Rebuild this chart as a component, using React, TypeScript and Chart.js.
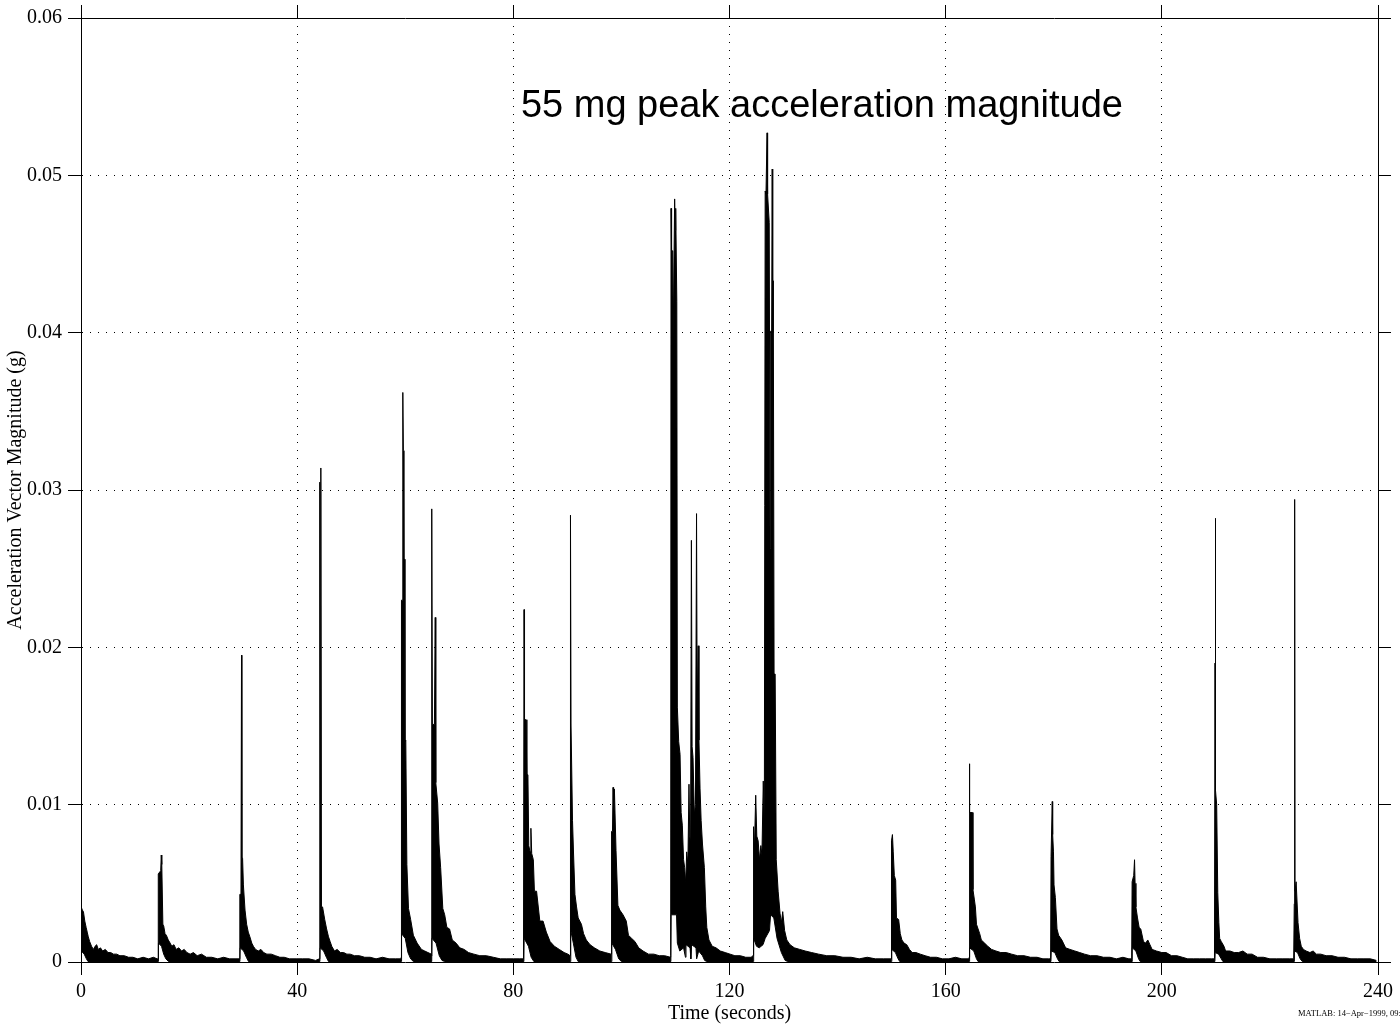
import { useEffect, useRef } from 'react';
import { Chart, registerables } from 'chart.js';

Chart.register(...registerables);

type P = [number, number];

// ---- Axis ticks ----
const xTickValues = [0, 40, 80, 120, 160, 200, 240];
const yTickValues = [0, 0.01, 0.02, 0.03, 0.04, 0.05, 0.06];

// ---- Texts ----
const xTitle = 'Time (seconds)';
const yTitle = 'Acceleration Vector Magnitude (g)';
const noteText = '55 mg peak acceleration magnitude';
const noteAt: P = [81.4, 0.0537];
const footerText = 'MATLAB: 14\u2212Apr\u22121999, 09:16';

// ---- Upper envelope of |a| (g), per event: [time s, value g] ----
const up000: P[] = [
  [0, 0.0001], [0.03, 0.0035], [0.25, 0.0033], [0.45, 0.0032], [0.7, 0.0026], [0.95, 0.0022],
  [1.15, 0.0019], [1.35, 0.0016], [1.6, 0.0013], [1.95, 0.001], [2.3, 0.0008], [2.6, 0.001],
  [2.9, 0.0011], [3.2, 0.0008], [3.6, 0.0009], [4.0, 0.0007], [4.5, 0.0008], [5.0, 0.0006],
  [5.5, 0.0006], [6.0, 0.0005], [6.6, 0.0005], [7.2, 0.0004], [8.0, 0.0004], [8.8, 0.0003],
  [9.6, 0.0003], [10.5, 0.0002], [11.5, 0.0003], [12.5, 0.0002], [13.4, 0.0003], [14.1, 0.0002],
];
const up015: P[] = [
  [14.25, 0.0002], [14.3, 0.0056], [14.75, 0.0058], [14.85, 0.0068], [14.95, 0.0062], [15.15, 0.0024],
  [15.3, 0.0023], [15.55, 0.0018], [15.8, 0.0017], [16.15, 0.0014], [16.5, 0.0012], [16.8, 0.001],
  [17.2, 0.0011], [17.6, 0.0008], [18.1, 0.0009], [18.6, 0.0007], [19.1, 0.0008], [19.6, 0.0006],
  [20.2, 0.0005], [20.8, 0.0006], [21.5, 0.0004], [22.3, 0.0005], [23.2, 0.0003], [24.2, 0.0003],
  [25.3, 0.0002], [26.4, 0.0003], [27.5, 0.0002], [28.5, 0.0002], [29.3, 0.0002],
];
const up030: P[] = [
  [29.36, 0.0002], [29.42, 0.0043], [29.6, 0.0043], [29.7, 0.0195], [29.77, 0.0066], [29.9, 0.0066],
  [30.05, 0.0049], [30.35, 0.0033], [30.65, 0.0024], [30.95, 0.0019], [31.25, 0.0016], [31.6, 0.0012],
  [31.9, 0.001], [32.3, 0.0008], [32.8, 0.0007], [33.3, 0.0008], [33.8, 0.0006], [34.4, 0.0005],
  [35.2, 0.0005], [36.0, 0.0004], [36.8, 0.0003], [37.6, 0.0003], [38.6, 0.0002], [39.8, 0.0002],
  [41.0, 0.0002], [42.2, 0.0002], [43.4, 0.0001], [44.1, 0.0002],
];
const up045: P[] = [
  [44.16, 0.0002], [44.22, 0.0305], [44.3, 0.01], [44.38, 0.0314], [44.5, 0.0035], [44.7, 0.0035],
  [45.1, 0.0027], [45.45, 0.0021], [45.8, 0.0016], [46.1, 0.0013], [46.4, 0.001], [46.9, 0.0007],
  [47.4, 0.0008], [48.0, 0.0006], [48.6, 0.0006], [49.2, 0.0005], [49.8, 0.0005], [50.6, 0.0004],
  [51.5, 0.0004], [52.5, 0.0003], [53.5, 0.0003], [54.6, 0.0002], [55.8, 0.0003], [57.0, 0.0002],
  [58.2, 0.0002], [59.2, 0.0002],
];
const up060: P[] = [
  [59.25, 0.0003], [59.3, 0.023], [59.45, 0.023], [59.55, 0.0362], [59.65, 0.0325], [59.75, 0.0256],
  [59.85, 0.0256], [59.95, 0.014], [60.1, 0.0141], [60.3, 0.0062], [60.6, 0.0034], [61.0, 0.0027],
  [61.5, 0.0017], [62.2, 0.0012], [63.0, 0.0008], [63.6, 0.0007], [64.2, 0.0006], [64.83, 0.0005],
];
const up065: P[] = [
  [64.88, 0.0004], [64.93, 0.0288], [65.02, 0.0151], [65.4, 0.0151], [65.55, 0.0219], [65.65, 0.0114],
  [66.0, 0.0101], [66.25, 0.0075], [66.55, 0.006], [66.95, 0.0034], [67.3, 0.003], [67.7, 0.0022],
  [68.2, 0.0021], [68.7, 0.0014], [69.4, 0.0012], [70.1, 0.0009], [70.9, 0.0008], [71.7, 0.0006],
  [72.7, 0.0005], [73.8, 0.0004], [75.0, 0.0004], [76.3, 0.0003], [77.6, 0.0002], [78.8, 0.0002],
  [80.0, 0.0002], [81.2, 0.0002], [81.88, 0.0002],
];
const up082: P[] = [
  [81.93, 0.0002], [81.98, 0.0224], [82.07, 0.0154], [82.35, 0.0154], [82.5, 0.0119], [82.7, 0.0119],
  [82.85, 0.0074], [83.1, 0.007], [83.25, 0.0085], [83.4, 0.0069], [83.7, 0.0065], [83.9, 0.0045],
  [84.3, 0.0045], [84.9, 0.0026], [85.5, 0.0026], [86.1, 0.0019], [86.8, 0.0013], [87.6, 0.001],
  [88.5, 0.0008], [89.4, 0.0006], [90.1, 0.0005], [90.5, 0.0004],
];
const up091: P[] = [
  [90.55, 0.0004], [90.6, 0.0284], [90.68, 0.015], [90.85, 0.015], [90.95, 0.009], [91.15, 0.0068],
  [91.4, 0.0043], [91.7, 0.0035], [92.0, 0.0028], [92.6, 0.0024], [93.0, 0.0018], [93.5, 0.0014],
  [94.2, 0.0011], [95.0, 0.0009], [96.0, 0.0007], [97.0, 0.0006], [98.1, 0.0005],
];
const up098: P[] = [
  [98.15, 0.0005], [98.2, 0.0083], [98.35, 0.0083], [98.45, 0.0111], [98.55, 0.0098], [98.7, 0.011],
  [99.0, 0.0071], [99.35, 0.0036], [99.7, 0.0033], [100.3, 0.003], [100.9, 0.0026], [101.3, 0.0017],
  [101.9, 0.0015], [102.5, 0.0013], [103.2, 0.0009], [104.0, 0.0007], [105.0, 0.0005], [106.0, 0.0005],
  [107.0, 0.0004], [108.0, 0.0004], [109.08, 0.0003],
];
const up110: P[] = [
  [109.12, 0.0004], [109.18, 0.0479], [109.28, 0.0452], [109.5, 0.0452], [109.58, 0.0397], [109.7, 0.0397],
  [109.85, 0.0485], [109.95, 0.0465], [110.05, 0.0479], [110.25, 0.042], [110.35, 0.0162], [110.6, 0.014],
  [110.85, 0.0132], [111.05, 0.0095], [111.27, 0.0087], [111.5, 0.0065], [111.7, 0.006], [111.9, 0.005],
  [112.08, 0.007], [112.3, 0.0062], [112.5, 0.0113], [112.65, 0.008], [112.8, 0.0076], [112.95, 0.0268],
  [113.08, 0.0137], [113.25, 0.013], [113.5, 0.0094], [113.7, 0.01], [113.9, 0.0285], [114.02, 0.016],
  [114.2, 0.0201], [114.35, 0.0141], [114.55, 0.011], [114.75, 0.009], [115.0, 0.0075], [115.35, 0.006],
  [115.6, 0.0035], [115.8, 0.0022], [116.2, 0.0014], [116.8, 0.001], [117.5, 0.0009], [118.3, 0.0007],
  [119.2, 0.0006], [120.1, 0.0005], [121.0, 0.0004], [122.0, 0.0004], [123.0, 0.0003], [124.0, 0.0003],
  [124.33, 0.0004],
];
const up127: P[] = [
  [124.38, 0.0004], [124.45, 0.0086], [124.6, 0.007], [124.85, 0.0106], [125.05, 0.008], [125.3, 0.0077],
  [125.55, 0.0065], [125.8, 0.0074], [126.0, 0.0068], [126.25, 0.0115], [126.45, 0.009], [126.6, 0.049],
  [126.75, 0.0488], [126.95, 0.0527], [127.05, 0.0488], [127.35, 0.047], [127.5, 0.0263], [127.62, 0.0401],
  [127.8, 0.0401], [127.9, 0.0504], [128.0, 0.04], [128.1, 0.0433], [128.25, 0.0183], [128.45, 0.0183],
  [128.65, 0.0065], [129.0, 0.0045], [129.35, 0.0031], [129.6, 0.0025], [129.85, 0.0032], [130.2, 0.002],
  [130.6, 0.0014], [131.2, 0.0011], [132.0, 0.0009], [133.0, 0.0008], [134.0, 0.0007], [135.2, 0.0006],
  [136.5, 0.0005], [138.0, 0.0004], [139.5, 0.0004], [141.0, 0.0003], [142.5, 0.0003], [144.0, 0.0002],
  [145.5, 0.0003], [147.0, 0.0002], [148.5, 0.0002], [149.9, 0.0002],
];
const up150: P[] = [
  [149.95, 0.0002], [150.0, 0.0077], [150.15, 0.0081], [150.3, 0.007], [150.5, 0.0055], [150.75, 0.0052],
  [150.9, 0.0028], [151.3, 0.0027], [151.6, 0.0018], [151.9, 0.0014], [152.3, 0.0012], [152.8, 0.0011],
  [153.3, 0.0008], [153.8, 0.0006], [154.5, 0.0006], [155.3, 0.0005], [156.2, 0.0004], [157.2, 0.0003],
  [158.3, 0.0003], [159.4, 0.0002], [160.6, 0.0002], [161.8, 0.0003], [163.0, 0.0002], [164.3, 0.0002],
];
const up165: P[] = [
  [164.35, 0.0003], [164.4, 0.0126], [164.45, 0.0095], [164.95, 0.0095], [165.05, 0.0046], [165.3, 0.004],
  [165.5, 0.0035], [165.7, 0.0024], [166.0, 0.0021], [166.3, 0.0018], [166.6, 0.0014], [167.2, 0.0012],
  [167.8, 0.001], [168.5, 0.0008], [169.3, 0.0007], [170.2, 0.0006], [171.2, 0.0006], [172.2, 0.0005],
  [173.3, 0.0004], [174.5, 0.0004], [175.7, 0.0003], [176.9, 0.0003], [178.0, 0.0002], [179.0, 0.0002],
  [179.42, 0.0002],
];
const up180: P[] = [
  [179.46, 0.0002], [179.5, 0.0067], [179.65, 0.0067], [179.72, 0.0102], [179.8, 0.0081], [179.95, 0.007],
  [180.05, 0.0049], [180.3, 0.0041], [180.6, 0.0021], [180.9, 0.0017], [181.5, 0.0014], [182.2, 0.0009],
  [183.0, 0.0008], [183.9, 0.0007], [184.8, 0.0006], [185.7, 0.0005], [186.8, 0.0004], [188.0, 0.0004],
  [189.2, 0.0003], [190.4, 0.0003], [191.6, 0.0002], [192.8, 0.0003], [193.9, 0.0002], [194.42, 0.0002],
];
const up195: P[] = [
  [194.46, 0.0002], [194.5, 0.0051], [194.8, 0.0055], [194.95, 0.0065], [195.05, 0.005], [195.2, 0.0035],
  [195.5, 0.0028], [195.8, 0.0022], [196.1, 0.0021], [196.6, 0.0013], [197.0, 0.0012], [197.4, 0.0014],
  [197.8, 0.0011], [198.2, 0.0008], [199.0, 0.0007], [200.0, 0.0006], [200.8, 0.0006], [201.8, 0.0004],
  [202.8, 0.0004], [203.8, 0.0003], [204.8, 0.0002], [205.9, 0.0002], [207.0, 0.0002], [208.1, 0.0002],
  [209.2, 0.0002], [209.74, 0.0002],
];
const up210: P[] = [
  [209.78, 0.0002], [209.84, 0.019], [209.88, 0.012], [209.92, 0.0282], [210.0, 0.0109], [210.15, 0.01],
  [210.35, 0.0044], [210.55, 0.0025], [210.7, 0.0015], [211.0, 0.0013], [211.5, 0.001], [211.8, 0.0007],
  [212.6, 0.0007], [213.4, 0.0006], [214.2, 0.0006], [215.0, 0.0007], [215.8, 0.0005], [216.7, 0.0005],
  [217.7, 0.0003], [218.8, 0.0003], [220.0, 0.0002], [221.2, 0.0002], [222.4, 0.0002], [223.6, 0.0002],
  [224.4, 0.0002],
];
const up225: P[] = [
  [224.45, 0.0002], [224.5, 0.0037], [224.58, 0.0294], [224.65, 0.0045], [224.85, 0.0051], [225.2, 0.0025],
  [225.5, 0.0015], [225.8, 0.001], [226.2, 0.0008], [226.7, 0.0007], [227.4, 0.0006], [228.0, 0.0007],
  [228.6, 0.0005], [229.4, 0.0005], [230.4, 0.0004], [231.5, 0.0004], [232.6, 0.0003], [233.8, 0.0003],
  [235.0, 0.0002], [236.2, 0.0002], [237.4, 0.0002], [238.6, 0.0002], [239.7, 0.0001],
];

// ---- Lower envelope of |a| (g), per event ----
const lo000: P[] = [[0, 0.00003], [0.06, 0.0007], [0.6, 0.0005], [1.0, 0.0002], [1.3, 0.00003]];
const lo015: P[] = [[14.28, 0.00003], [14.33, 0.0012], [14.9, 0.001], [15.3, 0.0005], [15.7, 0.0002], [16.2, 0.00003]];
const lo030: P[] = [[29.4, 0.00003], [29.45, 0.0009], [30.1, 0.0007], [30.6, 0.0003], [31.0, 0.00003]];
const lo045: P[] = [[44.2, 0.00003], [44.25, 0.0009], [44.9, 0.0007], [45.4, 0.0003], [45.8, 0.00003]];
const lo060: P[] = [[59.27, 0.00003], [59.32, 0.0018], [60.0, 0.0015], [60.5, 0.0006], [61.0, 0.0002], [61.5, 0.00003]];
const lo065: P[] = [[64.9, 0.00003], [64.95, 0.0015], [65.7, 0.0012], [66.3, 0.0004], [66.8, 0.0001], [67.3, 0.00003]];
const lo082: P[] = [[81.95, 0.00003], [82.0, 0.0015], [82.8, 0.001], [83.3, 0.0003], [83.8, 0.00003]];
const lo091: P[] = [[90.58, 0.00003], [90.63, 0.002], [91.1, 0.0012], [91.6, 0.0003], [92.0, 0.00003]];
const lo098: P[] = [[98.18, 0.00003], [98.23, 0.0012], [98.9, 0.0008], [99.5, 0.0002], [100.0, 0.00003]];
const lo110: P[] = [
  [109.15, 0.00003], [109.2, 0.003], [110.2, 0.003], [110.35, 0.0012], [110.8, 0.0007], [111.5, 0.0009],
  [111.85, 0.0003], [111.95, 0.0011], [112.7, 0.0009], [112.85, 0.0002], [112.98, 0.0011], [113.8, 0.0009],
  [113.92, 0.0002], [114.3, 0.0007], [115.0, 0.0004], [115.4, 0.0001], [115.8, 0.00003],
];
const lo127: P[] = [
  [124.4, 0.00003], [124.47, 0.0015], [125.0, 0.001], [125.5, 0.0009], [126.2, 0.0011], [126.6, 0.0015],
  [127.4, 0.002], [127.6, 0.003], [128.2, 0.0028], [128.8, 0.0015], [129.6, 0.0006], [130.3, 0.0001],
  [130.8, 0.00003],
];
const lo150: P[] = [[149.98, 0.00003], [150.03, 0.0008], [150.7, 0.0006], [151.2, 0.0002], [151.5, 0.00003]];
const lo165: P[] = [[164.38, 0.00003], [164.43, 0.0009], [165.2, 0.0007], [165.7, 0.0002], [166.0, 0.00003]];
const lo180: P[] = [[179.48, 0.00003], [179.53, 0.0007], [180.2, 0.0006], [180.7, 0.0002], [181.0, 0.00003]];
const lo195: P[] = [[194.48, 0.00003], [194.53, 0.0009], [195.2, 0.0007], [195.7, 0.0002], [196.0, 0.00003]];
const lo210: P[] = [[209.82, 0.00003], [209.87, 0.0006], [210.5, 0.0005], [211.0, 0.0002], [211.3, 0.00003]];
const lo225: P[] = [[224.48, 0.00003], [224.53, 0.0007], [225.1, 0.0006], [225.6, 0.0002], [226.0, 0.00003], [239.7, 0.00003]];

const upperEnvelope: P[] = [
  ...up000, ...up015, ...up030, ...up045, ...up060, ...up065, ...up082, ...up091, ...up098,
  ...up110, ...up127, ...up150, ...up165, ...up180, ...up195, ...up210, ...up225,
];
const lowerEnvelope: P[] = [
  ...lo000, ...lo015, ...lo030, ...lo045, ...lo060, ...lo065, ...lo082, ...lo091, ...lo098,
  ...lo110, ...lo127, ...lo150, ...lo165, ...lo180, ...lo195, ...lo210, ...lo225,
];

const SERIF = '"Liberation Serif", "Times New Roman", Times, serif';
const SANS = '"Liberation Sans", Arial, Helvetica, sans-serif';

const textPlugin = {
  id: 'matlabTexts',
  afterDraw(chart: any) {
    const { ctx } = chart;
    const xs = chart.scales.x;
    const ys = chart.scales.y;
    ctx.save();
    ctx.fillStyle = '#000';
    ctx.font = `38px ${SANS}`;
    ctx.textAlign = 'left';
    ctx.textBaseline = 'alphabetic';
    ctx.fillText(noteText, xs.getPixelForValue(noteAt[0]), ys.getPixelForValue(noteAt[1]));
    ctx.font = `8.5px ${SERIF}`;
    ctx.fillText(footerText, 1298, 1016);
    ctx.restore();
  },
};

export default function App() {
  const ref = useRef<HTMLCanvasElement | null>(null);

  useEffect(() => {
    if (!ref.current) return;
    const tickFont = { family: SERIF, size: 20 };
    const chart = new Chart(ref.current, {
      type: 'line',
      data: {
        datasets: [
          {
            label: 'lower',
            data: lowerEnvelope.map(([x, y]) => ({ x, y })),
            borderColor: '#000',
            borderWidth: 1,
            pointRadius: 0,
            fill: false,
          },
          {
            label: 'upper',
            data: upperEnvelope.map(([x, y]) => ({ x, y })),
            borderColor: '#000',
            backgroundColor: '#000',
            borderWidth: 1,
            pointRadius: 0,
            fill: 0,
          },
        ],
      },
      plugins: [textPlugin],
      options: {
        animation: false,
        responsive: false,
        devicePixelRatio: 1,
        layout: { padding: 0 },
        elements: { line: { tension: 0 }, point: { radius: 0 } },
        plugins: {
          legend: { display: false },
          tooltip: { enabled: false },
          title: { display: false },
        },
        scales: {
          x: {
            type: 'linear',
            position: 'bottom',
            min: 0,
            max: 240,
            afterBuildTicks: (s: any) => { s.ticks = xTickValues.map((value) => ({ value })); },
            afterFit: (s: any) => { s.height = 62; },
            ticks: { font: tickFont, color: '#000', padding: 5, maxRotation: 0, autoSkip: false, callback: (v: any) => String(v) },
            grid: { color: '#000', lineWidth: 1, drawTicks: true, tickLength: 13, tickColor: '#000', tickWidth: 1 },
            border: { display: true, color: '#000', width: 1, dash: [1, 7] },
            title: { display: true, text: xTitle, font: tickFont, color: '#000', padding: { top: 0, bottom: -2 } },
          },
          y: {
            type: 'linear',
            position: 'left',
            min: 0,
            max: 0.06,
            afterBuildTicks: (s: any) => { s.ticks = yTickValues.map((value) => ({ value })); },
            afterFit: (s: any) => { s.width = 81; },
            ticks: { font: tickFont, color: '#000', padding: 6, autoSkip: false, callback: (v: any) => (Number(v) === 0 ? '0' : Number(v).toFixed(2)) },
            grid: { color: '#000', lineWidth: 1, drawTicks: true, tickLength: 13, tickColor: '#000', tickWidth: 1 },
            border: { display: true, color: '#000', width: 1, dash: [1, 7] },
            title: { display: true, text: yTitle, font: tickFont, color: '#000', padding: { top: 4, bottom: 0 } },
          },
          x2: {
            type: 'linear',
            position: 'top',
            display: true,
            min: 0,
            max: 240,
            afterBuildTicks: (s: any) => { s.ticks = xTickValues.map((value) => ({ value })); },
            afterFit: (s: any) => { s.height = 17; },
            ticks: { display: false },
            grid: { drawOnChartArea: false, drawTicks: true, tickLength: 13, tickColor: '#000', tickWidth: 1, color: '#000' },
            border: { display: true, color: '#000', width: 1 },
          },
          y2: {
            type: 'linear',
            position: 'right',
            display: true,
            min: 0,
            max: 0.06,
            afterBuildTicks: (s: any) => { s.ticks = yTickValues.map((value) => ({ value })); },
            afterFit: (s: any) => { s.width = 22; },
            ticks: { display: false },
            grid: { drawOnChartArea: false, drawTicks: true, tickLength: 13, tickColor: '#000', tickWidth: 1, color: '#000' },
            border: { display: true, color: '#000', width: 1 },
          },
        },
      } as any,
    });
    return () => chart.destroy();
  }, []);

  return (
    <div style={{ position: 'absolute', left: 0, top: 0, width: 1400, height: 1024, background: '#fff' }}>
      <canvas ref={ref} width={1400} height={1024} style={{ display: 'block' }} />
    </div>
  );
}
